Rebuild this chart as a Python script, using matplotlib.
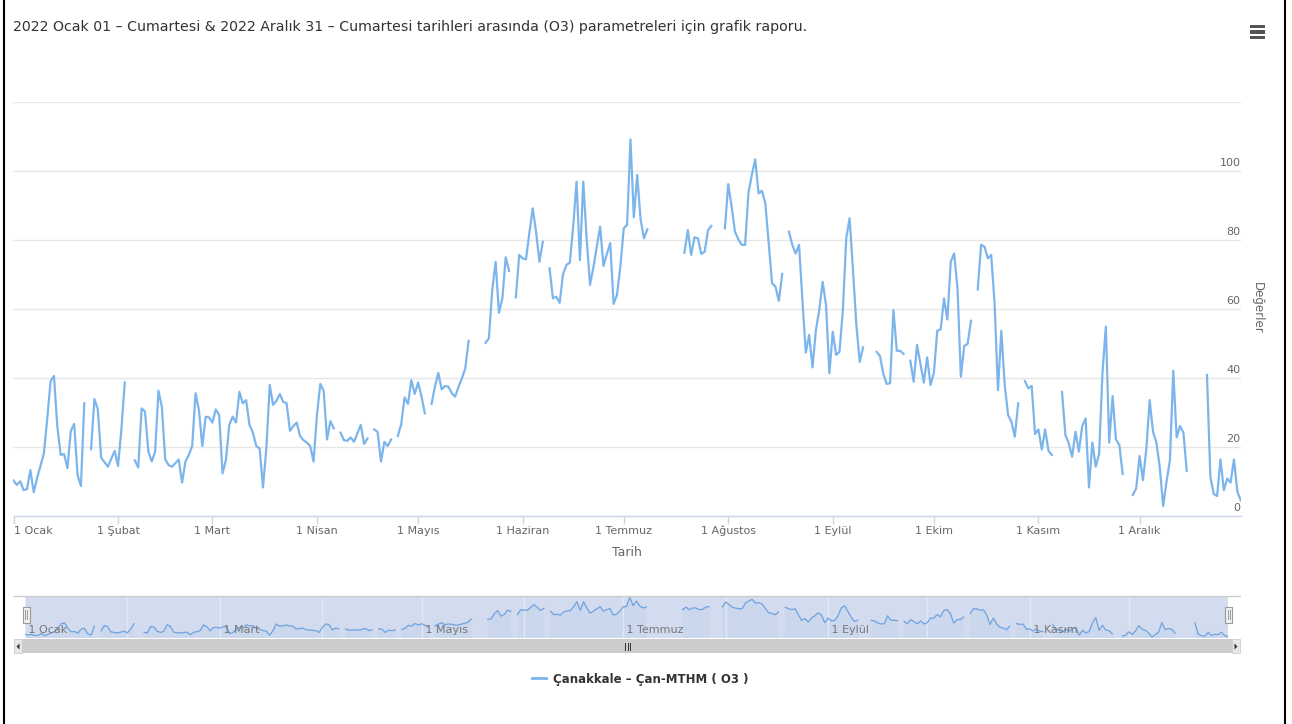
import numpy as np
import pandas as pd
import matplotlib
matplotlib.use("Agg")
import matplotlib.pyplot as plt
import matplotlib.transforms as mtransforms
from matplotlib.patches import Rectangle, Polygon
from matplotlib.lines import Line2D

N = None  # missing measurement

# Daily O3 values, one list per month of 2022
jan = [10.2, 8.9, 10.0, 7.4, 7.7, 13.2, 6.8, 10.9, 14.5, 18.0, 28.0, 39.0, 40.5, 25.8, 17.6, 17.9,
       13.8, 24.6, 26.6, 11.8, 8.6, 32.6, N, 19.3, 33.8, 30.9, 16.8, 15.5, 14.2, 16.5, 18.8]
feb = [14.4, 25.0, 38.6, N, N, 16.0, 14.0, 31.1, 30.2, 18.6, 15.7, 18.6, 36.2, 31.6, 16.3, 14.7,
       14.2, 15.2, 16.3, 9.6, 15.7, 17.6, 20.2, 35.5, 30.6, 20.2, 28.7, 28.5]
mar = [27.0, 30.8, 29.2, 12.3, 16.1, 26.3, 28.7, 27.0, 35.9, 32.6, 33.5, 26.3, 24.1, 20.2, 19.5, 8.2,
       19.5, 37.9, 32.1, 33.3, 35.3, 33.0, 32.6, 24.6, 26.0, 27.0, 23.1, 21.9, 21.2, 20.2, 15.7]
apr = [29.2, 38.2, 36.2, 22.1, 27.4, 25.3, N, 24.1, 21.9, 21.7, 22.7, 21.4, 23.9, 26.3, 20.8, 22.4,
       N, 25.0, 24.3, 15.7, 21.4, 20.2, 22.1, N, 23.1, 26.6, 34.3, 32.4, 39.3, 35.3]
may = [38.6, 34.7, 29.7, N, 32.4, 37.4, 41.4, 36.6, 37.6, 37.4, 35.5, 34.5, 37.4, 39.8, 42.7, 50.7,
       N, N, N, N, 50.1, 51.4, 65.4, 73.6, 58.8, 63.0, 74.9, 71.0, N, 63.3, 75.6]
jun = [74.6, 74.3, 81.9, 89.1, 82.3, 73.6, 79.4, N, 71.7, 63.0, 63.5, 61.7, 70.0, 72.7, 73.3, 83.8,
       96.8, 74.1, 96.8, 80.4, 66.9, 72.0, 78.0, 83.8, 72.4, 75.9, 79.0, 61.4, 64.0, 72.2]
jul = [83.3, 84.3, 109.1, 86.5, 98.8, 85.9, 80.4, 83.0, N, N, N, N, N, N, N, N,
       N, N, 76.2, 82.8, 75.6, 80.7, 80.4, 75.9, 76.5, 82.8, 84.0, N, N, N, 83.3]
aug = [96.1, 89.6, 82.3, 80.1, 78.5, 78.5, 93.6, 98.8, 103.3, 93.4, 94.2, 90.6, 79.0, 67.4, 66.4, 62.3,
       70.1, N, 82.3, 78.5, 76.0, 78.5, 62.5, 47.3, 52.4, 43.0, 53.8, 59.6, 67.8, 61.1, 41.3]
sep = [53.3, 46.6, 47.5, 59.6, 80.4, 86.2, 71.2, 55.3, 44.6, 48.8, N, N, N, 47.5, 46.3, 41.1,
       38.2, 38.4, 59.6, 47.8, 47.8, 46.9, N, 44.9, 38.8, 49.5, 44.0, 38.6, 45.9, 37.9]
oct_ = [41.4, 53.6, 54.0, 63.0, 56.9, 73.6, 76.0, 65.9, 40.3, 49.2, 49.8, 56.5, N, 65.6, 78.5, 78.0,
        74.6, 75.6, 61.6, 36.4, 53.6, 37.9, 29.2, 27.2, 22.9, 32.6, N, 39.0, 36.9, 37.6, 23.7]
nov = [25.0, 19.2, 25.0, 18.8, 17.6, N, N, 35.9, 23.4, 21.0, 17.1, 24.3, 18.6, 26.0, 28.2, 8.2,
       21.2, 14.2, 17.9, 41.4, 54.8, 21.2, 34.7, 22.1, 20.5, 12.1, N, N, 6.0, 7.9]
dec = [17.3, 10.3, 19.2, 33.5, 24.3, 21.2, 14.0, 2.8, 9.9, 16.0, 42.0, 22.7, 26.0, 24.1, 13.0, N,
       N, N, N, N, 40.8, 11.3, 6.3, 5.7, 16.3, 7.4, 10.8, 9.6, 16.3, 7.0, 4.5]

month_names = ["Ocak", "Şubat", "Mart", "Nisan", "Mayıs", "Haziran", "Temmuz",
               "Ağustos", "Eylül", "Ekim", "Kasım", "Aralık"]
y_ticks = [0, 20, 40, 60, 80, 100, 120]

title_text = ("2022 Ocak 01 – Cumartesi & 2022 Aralık 31 – Cumartesi tarihleri arasında "
              "(O3) parametreleri için grafik raporu.")
series_name = "Çanakkale – Çan-MTHM ( O3 )"
x_title = "Tarih"
y_title = "Değerler"

monthly = [jan, feb, mar, apr, may, jun, jul, aug, sep, oct_, nov, dec]
values = np.array([np.nan if v is None else v for m in monthly for v in m], dtype=float)
dates = pd.date_range("2022-01-01", "2022-12-31", freq="D")
month_starts = pd.date_range("2022-01-01", periods=12, freq="MS")

LINE = "#7cb5ec"
GRID = "#e6e6e6"
AXIS = "#ccd6eb"
TXT = "#666666"

W, H = 1292, 724
fig = plt.figure(figsize=(W / 100, H / 100), dpi=100)
fig.patch.set_facecolor("white")


def fx(px):
    return px / W


def fy(py):
    return 1 - py / H


def box(x0, y0, x1, y1):
    return [fx(x0), fy(y1), fx(x1) - fx(x0), fy(y0) - fy(y1)]


# ---- main chart -------------------------------------------------------
ax = fig.add_axes(box(13.5, 101.7, 1240.7, 515.7))
ax.plot(dates, values, color=LINE, lw=1.6, solid_joinstyle="round", zorder=3)
ax.set_xlim(dates[0], dates[-1])
ax.set_ylim(0, 120)

for s in ("top", "left", "right"):
    ax.spines[s].set_visible(False)
ax.spines["bottom"].set_color(AXIS)
ax.spines["bottom"].set_linewidth(1.0)

ax.set_yticks(y_ticks)
ax.set_yticklabels([str(t) for t in y_ticks[:-1]] + [""])
ax.yaxis.grid(True, color=GRID, lw=1.0)
ax.set_axisbelow(True)
ax.tick_params(axis="y", length=0, labelleft=False, labelright=True, pad=0,
               labelsize=8, labelcolor=TXT)
for lbl in ax.get_yticklabels():
    lbl.set_horizontalalignment("right")
    lbl.set_verticalalignment("bottom")
    lbl.set_transform(lbl.get_transform() + mtransforms.ScaledTranslation(0, 3 / 100, fig.dpi_scale_trans))

ax.set_xticks(month_starts)
ax.set_xticklabels([f"1 {m}" for m in month_names])
ax.tick_params(axis="x", length=6, width=1, color=AXIS, labelsize=8, labelcolor=TXT, pad=7.5)
for lbl in ax.get_xticklabels():
    lbl.set_verticalalignment("baseline")
ax.get_xticklabels()[0].set_horizontalalignment("left")

ax.set_xlabel(x_title, fontsize=9, color=TXT, labelpad=7)
fig.text(fx(1257), fy(308), y_title, rotation=270, ha="center", va="center",
         fontsize=8.5, color=TXT)

# ---- title and menu icon ------------------------------------------------
fig.text(fx(13), fy(27), title_text, ha="left", va="center", fontsize=10.2, color="#333333")
for yy in (26.5, 32, 37.5):
    fig.add_artist(Rectangle((fx(1249.5), fy(yy + 1.5)), fx(15.5), 3 / H,
                             transform=fig.transFigure, color="#555555", lw=0))

# ---- navigator ----------------------------------------------------------
nav = fig.add_axes(box(25, 596, 1228, 638))
nav.set_facecolor("#d3dbee")
nav.fill_between(dates, 0, values, color=LINE, alpha=0.10, lw=0)
nav.plot(dates, values, color="#6fa3e0", lw=0.9)
nav.set_xlim(dates[0], dates[-1])
nav.set_ylim(np.nanmin(values) - 2, np.nanmax(values) + 3)
for s in nav.spines.values():
    s.set_visible(False)
nav.set_xticks(month_starts)
nav.xaxis.grid(True, color="#e2e7f2", lw=1.0)
nav.tick_params(length=0, labelbottom=False, labelleft=False)
for d, name in zip(month_starts[::2], month_names[::2]):
    nav.text(d, 0.18, f" 1 {name}", transform=nav.get_xaxis_transform(), ha="left",
             va="center", fontsize=8, color="#777777")

# outline on top of navigator
fig.add_artist(Line2D([fx(14), fx(1240)], [fy(595.5), fy(595.5)], transform=fig.transFigure,
                      color="#cccccc", lw=1))

# navigator handles
for hx in (26, 1228.5):
    fig.add_artist(Rectangle((fx(hx - 3.5), fy(623)), 7 / W, 16 / H, transform=fig.transFigure,
                             facecolor="#f2f2f2", edgecolor="#999999", lw=0.8))
    for dx in (-1, 1):
        fig.add_artist(Line2D([fx(hx + dx), fx(hx + dx)], [fy(610), fy(619)],
                              transform=fig.transFigure, color="#999999", lw=0.7))

# scrollbar
fig.add_artist(Rectangle((fx(14), fy(653)), 1226 / W, 14 / H, transform=fig.transFigure,
                         facecolor="#f2f2f2", edgecolor="#f2f2f2", lw=0))
fig.add_artist(Rectangle((fx(22), fy(653)), 1210 / W, 14 / H, transform=fig.transFigure,
                         facecolor="#cccccc", edgecolor="#cccccc", lw=0))
for bx in (14, 1232):
    fig.add_artist(Rectangle((fx(bx), fy(653)), 8 / W, 14 / H, transform=fig.transFigure,
                             facecolor="#e6e6e6", edgecolor="#cccccc", lw=0.6))
fig.add_artist(Polygon([(fx(19.5), fy(643.5)), (fx(19.5), fy(649.5)), (fx(16.5), fy(646.5))],
                       closed=True, transform=fig.transFigure, color="#333333", lw=0))
fig.add_artist(Polygon([(fx(1234.5), fy(643.5)), (fx(1234.5), fy(649.5)), (fx(1237.5), fy(646.5))],
                       closed=True, transform=fig.transFigure, color="#333333", lw=0))
for gx in (625, 627.5, 630):
    fig.add_artist(Line2D([fx(gx), fx(gx)], [fy(643), fy(650)], transform=fig.transFigure,
                          color="#333333", lw=0.7))

# ---- legend -------------------------------------------------------------
handle = Line2D([], [], color=LINE, lw=2)
fig.legend([handle], [series_name], loc="center", bbox_to_anchor=(fx(640), fy(679)),
           frameon=False, handlelength=1.2, handletextpad=0.6,
           prop={"size": 8.5, "weight": "bold"}, labelcolor="#333333")

# ---- outer frame --------------------------------------------------------
for seg in (([3.5, 3.5], [0, 724]), ([1284.5, 1284.5], [0, 724])):
    fig.add_artist(Line2D([fx(v) for v in seg[0]], [fy(v) for v in seg[1]],
                          transform=fig.transFigure, color="black", lw=1.5))

fig.savefig("out.png", dpi=100)
